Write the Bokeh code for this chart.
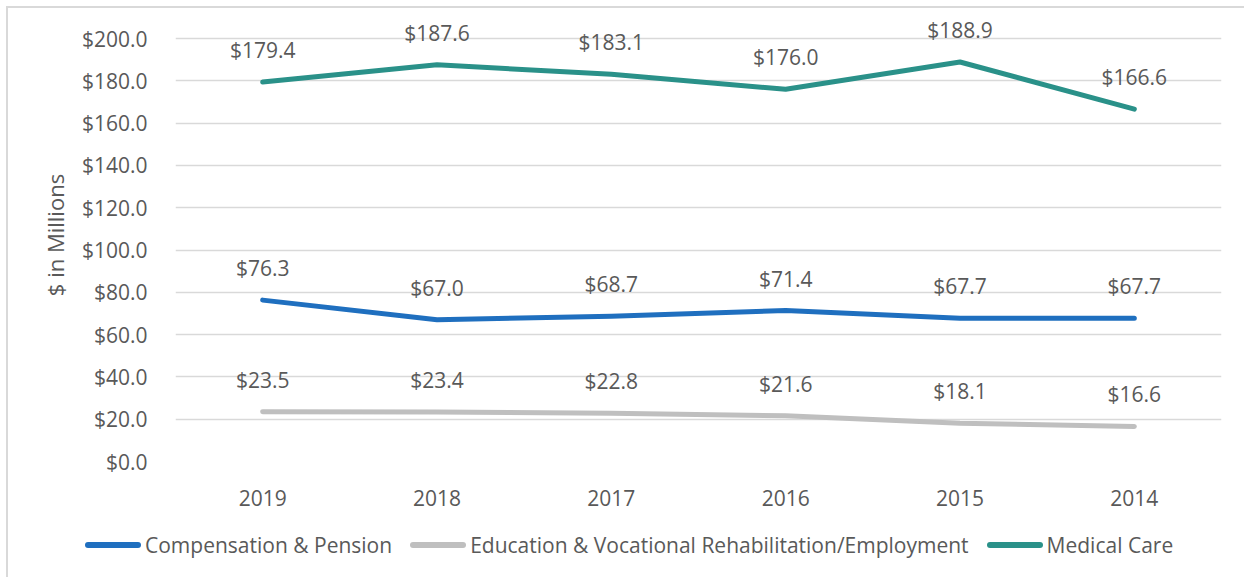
from bokeh.plotting import figure
from bokeh.layouts import column
from bokeh.models import (ColumnDataSource, Range1d, FixedTicker, LabelSet,
                          CustomJSTickFormatter, Div)
from bokeh.core.properties import value
from bokeh.embed import file_html
from bokeh.resources import INLINE

years = ["2019", "2018", "2017", "2016", "2015", "2014"]
comp_pension = [76.3, 67.0, 68.7, 71.4, 67.7, 67.7]
education = [23.5, 23.4, 22.8, 21.6, 18.1, 16.6]
medical = [179.4, 187.6, 183.1, 176.0, 188.9, 166.6]
y_ticks = [0, 20, 40, 60, 80, 100, 120, 140, 160, 180, 200]

series = [
    ("Compensation & Pension", comp_pension, "#1F6FBF"),
    ("Education & Vocational Rehabilitation/Employment", education, "#BFBFBF"),
    ("Medical Care", medical, "#2A9189"),
]

FONT = "Open Sans"
FS = "21px"
TXT = "#595959"
W = 1236

p = figure(x_range=years, y_range=Range1d(0, 214.2), width=W, height=512,
           output_backend="svg", toolbar_location=None,
           min_border_left=167, min_border_right=23, min_border_top=0, min_border_bottom=59)
p.outline_line_color = None

p.xgrid.grid_line_color = None
p.ygrid.grid_line_color = "#D9D9D9"
p.ygrid.grid_line_width = 1.5
p.yaxis.ticker = FixedTicker(ticks=y_ticks)
p.yaxis.formatter = CustomJSTickFormatter(code="return '$' + tick.toFixed(1);")
for ax in (p.xaxis[0], p.yaxis[0]):
    ax.axis_line_color = None
    ax.major_tick_line_color = None
    ax.minor_tick_line_color = None
    ax.major_label_text_font = FONT
    ax.major_label_text_font_size = FS
    ax.major_label_text_color = TXT
p.yaxis.major_label_standoff = 22
p.xaxis.major_label_standoff = 22
p.yaxis.axis_label = "$ in Millions"
p.yaxis.axis_label_text_font = FONT
p.yaxis.axis_label_text_font_size = "22px"
p.yaxis.axis_label_text_font_style = "normal"
p.yaxis.axis_label_text_color = TXT
p.yaxis.axis_label_standoff = 9

for name, vals, color in series:
    src = ColumnDataSource(dict(x=years, y=vals, lab=["$%.1f" % v for v in vals]))
    p.line("x", "y", source=src, line_color=color, line_width=5, line_cap="round",
           line_join="round")
    ls = LabelSet(x="x", y="y", text="lab", source=src, text_align="center",
                  text_baseline="alphabetic", y_offset=24, text_font=value(FONT),
                  text_font_size=value(FS), text_color=TXT)
    p.add_layout(ls)

# legend strip below the chart
parts = []
for i, (name, vals, color) in enumerate(series):
    gap = "0" if i == 0 else "18px"
    parts.append(
        f'<span style="display:inline-flex;align-items:center;margin-left:{gap};">'
        f'<span style="display:inline-block;width:56px;height:5.5px;border-radius:3px;'
        f'background:{color};"></span>'
        f'<span style="margin-left:4px;">{name.replace("&", "&amp;")}</span></span>'
    )
legend_html = (
    f'<div style="display:flex;align-items:center;height:40px;padding-left:72px;'
    f'font-family:\'{FONT}\';font-size:{FS};color:{TXT};white-space:nowrap;">'
    + "".join(parts) + "</div>"
)
lg = Div(text=legend_html, width=W, height=57)

layout = column(p, lg, spacing=0)
layout.styles = {"border-left": "2px solid #D9D9D9", "border-top": "2px solid #D9D9D9",
                 "margin-left": "6px", "margin-top": "6px"}

open("out.html", "w").write(file_html(layout, INLINE))
